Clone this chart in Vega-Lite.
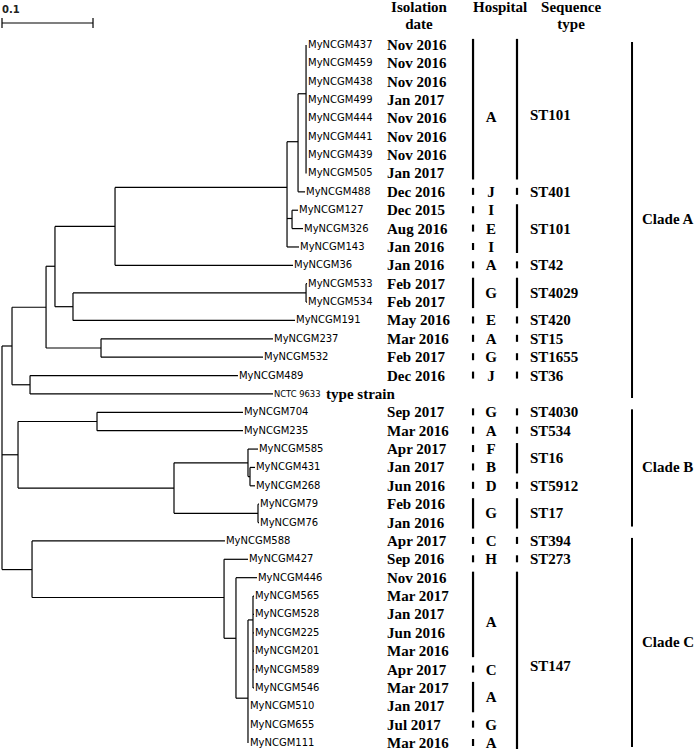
{
  "$schema": "https://vega.github.io/schema/vega-lite/v6.json",
  "width": 696,
  "height": 752,
  "padding": 0,
  "autosize": {"type": "fit", "contains": "padding"},
  "background": "white",
  "config": {"view": {"stroke": null}},
  "datasets": {
    "tree": [
      {"x1":0,"x2":0,"y1":16.39,"y2":28.56},
      {"x1":0,"x2":0.011,"y1":16.39,"y2":16.39},
      {"x1":0,"x2":0.0176,"y1":22.31,"y2":22.31},
      {"x1":0,"x2":0.033,"y1":28.56,"y2":28.56},
      {"x1":0.011,"x2":0.011,"y1":14.28,"y2":18.5},
      {"x1":0.011,"x2":0.0484,"y1":14.28,"y2":14.28},
      {"x1":0.011,"x2":0.0308,"y1":18.5,"y2":18.5},
      {"x1":0.0308,"x2":0.0308,"y1":18,"y2":19},
      {"x1":0.0308,"x2":0.2593,"y1":18,"y2":18},
      {"x1":0.0308,"x2":0.2978,"y1":19,"y2":19},
      {"x1":0.0484,"x2":0.0484,"y1":12.05,"y2":16.5},
      {"x1":0.0484,"x2":0.0582,"y1":12.05,"y2":12.05},
      {"x1":0.0484,"x2":0.1088,"y1":16.5,"y2":16.5},
      {"x1":0.1088,"x2":0.1088,"y1":16,"y2":17},
      {"x1":0.1088,"x2":0.2978,"y1":16,"y2":16},
      {"x1":0.1088,"x2":0.2868,"y1":17,"y2":17},
      {"x1":0.0582,"x2":0.0582,"y1":9.88,"y2":14.25},
      {"x1":0.0582,"x2":0.1242,"y1":9.88,"y2":9.88},
      {"x1":0.0582,"x2":0.078,"y1":14.25,"y2":14.25},
      {"x1":0.078,"x2":0.078,"y1":13.5,"y2":15},
      {"x1":0.078,"x2":0.3341,"y1":13.5,"y2":13.5},
      {"x1":0.078,"x2":0.322,"y1":15,"y2":15},
      {"x1":0.3341,"x2":0.3341,"y1":13,"y2":14},
      {"x1":0.3341,"x2":0.3352,"y1":13,"y2":13},
      {"x1":0.3341,"x2":0.3352,"y1":14,"y2":14},
      {"x1":0.1242,"x2":0.1242,"y1":7.76,"y2":12},
      {"x1":0.1242,"x2":0.3132,"y1":7.76,"y2":7.76},
      {"x1":0.1242,"x2":0.3198,"y1":12,"y2":12},
      {"x1":0.3132,"x2":0.3132,"y1":5.27,"y2":11},
      {"x1":0.3132,"x2":0.3253,"y1":5.27,"y2":5.27},
      {"x1":0.3132,"x2":0.3187,"y1":9.45,"y2":9.45},
      {"x1":0.3132,"x2":0.3264,"y1":11,"y2":11},
      {"x1":0.3187,"x2":0.3187,"y1":9,"y2":10},
      {"x1":0.3187,"x2":0.3253,"y1":9,"y2":9},
      {"x1":0.3187,"x2":0.3308,"y1":10,"y2":10},
      {"x1":0.3253,"x2":0.3253,"y1":2.66,"y2":8},
      {"x1":0.3253,"x2":0.3341,"y1":2.66,"y2":2.66},
      {"x1":0.3253,"x2":0.333,"y1":8,"y2":8},
      {"x1":0.3341,"x2":0.3341,"y1":0,"y2":7},
      {"x1":0.0176,"x2":0.0176,"y1":20.5,"y2":24.125},
      {"x1":0.0176,"x2":0.1044,"y1":20.5,"y2":20.5},
      {"x1":0.0176,"x2":0.189,"y1":24.125,"y2":24.125},
      {"x1":0.1044,"x2":0.1044,"y1":20,"y2":21},
      {"x1":0.1044,"x2":0.2648,"y1":20,"y2":20},
      {"x1":0.1044,"x2":0.2648,"y1":21,"y2":21},
      {"x1":0.189,"x2":0.189,"y1":22.75,"y2":25.5},
      {"x1":0.189,"x2":0.2703,"y1":22.75,"y2":22.75},
      {"x1":0.189,"x2":0.2813,"y1":25.5,"y2":25.5},
      {"x1":0.2703,"x2":0.2703,"y1":22,"y2":23.5},
      {"x1":0.2703,"x2":0.2813,"y1":22,"y2":22},
      {"x1":0.2703,"x2":0.2725,"y1":23.5,"y2":23.5},
      {"x1":0.2725,"x2":0.2725,"y1":23,"y2":24},
      {"x1":0.2725,"x2":0.278,"y1":23,"y2":23},
      {"x1":0.2725,"x2":0.278,"y1":24,"y2":24},
      {"x1":0.2813,"x2":0.2813,"y1":25,"y2":26},
      {"x1":0.2813,"x2":0.2824,"y1":25,"y2":25},
      {"x1":0.2813,"x2":0.2824,"y1":26,"y2":26},
      {"x1":0.033,"x2":0.033,"y1":27,"y2":30.08},
      {"x1":0.033,"x2":0.245,"y1":27,"y2":27},
      {"x1":0.033,"x2":0.244,"y1":30.08,"y2":30.08},
      {"x1":0.244,"x2":0.244,"y1":28,"y2":32.3},
      {"x1":0.244,"x2":0.2703,"y1":28,"y2":28},
      {"x1":0.244,"x2":0.2571,"y1":32.3,"y2":32.3},
      {"x1":0.2571,"x2":0.2571,"y1":29,"y2":35.56},
      {"x1":0.2571,"x2":0.2802,"y1":29,"y2":29},
      {"x1":0.2571,"x2":0.2703,"y1":35.56,"y2":35.56},
      {"x1":0.2703,"x2":0.2703,"y1":31.3,"y2":38},
      {"x1":0.2703,"x2":0.2758,"y1":31.3,"y2":31.3},
      {"x1":0.2758,"x2":0.2758,"y1":30,"y2":35},
      {"x1":0.2758,"x2":0.2769,"y1":30,"y2":30},
      {"x1":0.2758,"x2":0.2769,"y1":31,"y2":31},
      {"x1":0.2758,"x2":0.2769,"y1":32,"y2":32},
      {"x1":0.2758,"x2":0.2769,"y1":33,"y2":33},
      {"x1":0.2758,"x2":0.2769,"y1":34,"y2":34},
      {"x1":0.2758,"x2":0.2769,"y1":35,"y2":35}
    ],
    "scalebar": [
      {"x1":0,"x2":0.1,"y1":-1.19,"y2":-1.19},
      {"x1":0,"x2":0,"y1":-1.47,"y2":-0.92},
      {"x1":0.1,"x2":0.1,"y1":-1.47,"y2":-0.92}
    ],
    "leaves": [
      {"name":"MyNCGM437","row":0,"tip":0.3352,"date":"Nov 2016"},
      {"name":"MyNCGM459","row":1,"tip":0.3352,"date":"Nov 2016"},
      {"name":"MyNCGM438","row":2,"tip":0.3352,"date":"Nov 2016"},
      {"name":"MyNCGM499","row":3,"tip":0.3352,"date":"Jan 2017"},
      {"name":"MyNCGM444","row":4,"tip":0.3352,"date":"Nov 2016"},
      {"name":"MyNCGM441","row":5,"tip":0.3352,"date":"Nov 2016"},
      {"name":"MyNCGM439","row":6,"tip":0.3352,"date":"Nov 2016"},
      {"name":"MyNCGM505","row":7,"tip":0.3352,"date":"Jan 2017"},
      {"name":"MyNCGM488","row":8,"tip":0.333,"date":"Dec 2016"},
      {"name":"MyNCGM127","row":9,"tip":0.3253,"date":"Dec 2015"},
      {"name":"MyNCGM326","row":10,"tip":0.3308,"date":"Aug 2016"},
      {"name":"MyNCGM143","row":11,"tip":0.3264,"date":"Jan 2016"},
      {"name":"MyNCGM36","row":12,"tip":0.3198,"date":"Jan 2016"},
      {"name":"MyNCGM533","row":13,"tip":0.3352,"date":"Feb 2017"},
      {"name":"MyNCGM534","row":14,"tip":0.3352,"date":"Feb 2017"},
      {"name":"MyNCGM191","row":15,"tip":0.322,"date":"May 2016"},
      {"name":"MyNCGM237","row":16,"tip":0.2978,"date":"Mar 2016"},
      {"name":"MyNCGM532","row":17,"tip":0.2868,"date":"Feb 2017"},
      {"name":"MyNCGM489","row":18,"tip":0.2593,"date":"Dec 2016"},
      {"name":"NCTC 9633","row":19,"tip":0.2978,"date":null,"note":"type strain"},
      {"name":"MyNCGM704","row":20,"tip":0.2648,"date":"Sep 2017"},
      {"name":"MyNCGM235","row":21,"tip":0.2648,"date":"Mar 2016"},
      {"name":"MyNCGM585","row":22,"tip":0.2813,"date":"Apr 2017"},
      {"name":"MyNCGM431","row":23,"tip":0.278,"date":"Jan 2017"},
      {"name":"MyNCGM268","row":24,"tip":0.278,"date":"Jun 2016"},
      {"name":"MyNCGM79","row":25,"tip":0.2824,"date":"Feb 2016"},
      {"name":"MyNCGM76","row":26,"tip":0.2824,"date":"Jan 2016"},
      {"name":"MyNCGM588","row":27,"tip":0.245,"date":"Apr 2017"},
      {"name":"MyNCGM427","row":28,"tip":0.2703,"date":"Sep 2016"},
      {"name":"MyNCGM446","row":29,"tip":0.2802,"date":"Nov 2016"},
      {"name":"MyNCGM565","row":30,"tip":0.2769,"date":"Mar 2017"},
      {"name":"MyNCGM528","row":31,"tip":0.2769,"date":"Jan 2017"},
      {"name":"MyNCGM225","row":32,"tip":0.2769,"date":"Jun 2016"},
      {"name":"MyNCGM201","row":33,"tip":0.2769,"date":"Mar 2016"},
      {"name":"MyNCGM589","row":34,"tip":0.2769,"date":"Apr 2017"},
      {"name":"MyNCGM546","row":35,"tip":0.2769,"date":"Mar 2017"},
      {"name":"MyNCGM510","row":36,"tip":0.2714,"date":"Jan 2017"},
      {"name":"MyNCGM655","row":37,"tip":0.2714,"date":"Jul 2017"},
      {"name":"MyNCGM111","row":38,"tip":0.2714,"date":"Mar 2016"}
    ],
    "hospital": [
      {"label":"A","first":0,"last":7},
      {"label":"J","first":8,"last":8},
      {"label":"I","first":9,"last":9},
      {"label":"E","first":10,"last":10},
      {"label":"I","first":11,"last":11},
      {"label":"A","first":12,"last":12},
      {"label":"G","first":13,"last":14},
      {"label":"E","first":15,"last":15},
      {"label":"A","first":16,"last":16},
      {"label":"G","first":17,"last":17},
      {"label":"J","first":18,"last":18},
      {"label":"G","first":20,"last":20},
      {"label":"A","first":21,"last":21},
      {"label":"F","first":22,"last":22},
      {"label":"B","first":23,"last":23},
      {"label":"D","first":24,"last":24},
      {"label":"G","first":25,"last":26},
      {"label":"C","first":27,"last":27},
      {"label":"H","first":28,"last":28},
      {"label":"A","first":29,"last":33},
      {"label":"C","first":34,"last":34},
      {"label":"A","first":35,"last":36},
      {"label":"G","first":37,"last":37},
      {"label":"A","first":38,"last":38}
    ],
    "st": [
      {"label":"ST101","first":0,"last":7},
      {"label":"ST401","first":8,"last":8},
      {"label":"ST101","first":9,"last":11},
      {"label":"ST42","first":12,"last":12},
      {"label":"ST4029","first":13,"last":14},
      {"label":"ST420","first":15,"last":15},
      {"label":"ST15","first":16,"last":16},
      {"label":"ST1655","first":17,"last":17},
      {"label":"ST36","first":18,"last":18},
      {"label":"ST4030","first":20,"last":20},
      {"label":"ST534","first":21,"last":21},
      {"label":"ST16","first":22,"last":23},
      {"label":"ST5912","first":24,"last":24},
      {"label":"ST17","first":25,"last":26},
      {"label":"ST394","first":27,"last":27},
      {"label":"ST273","first":28,"last":28},
      {"label":"ST147","first":29,"last":38}
    ],
    "clades": [
      {"label":"Clade A","first":0,"last":19},
      {"label":"Clade B","first":20,"last":26},
      {"label":"Clade C","first":27,"last":38}
    ]
  },
  "layer": [
    {
      "data": {"name": "tree"},
      "mark": {"type": "rule", "color": "black", "strokeWidth": 1.2},
      "encoding": {
        "x": {"field": "x1", "type": "quantitative", "axis": null, "scale": {"domain": [-0.0022, 0.7626], "nice": false, "zero": false}},
        "x2": {"field": "x2"},
        "y": {"field": "y1", "type": "quantitative", "axis": null, "scale": {"domain": [-2.443, 38.38], "reverse": true, "nice": false, "zero": false}},
        "y2": {"field": "y2"}
      }
    },
    {
      "data": {"name": "scalebar"},
      "mark": {"type": "rule", "color": "black", "strokeWidth": 1.2},
      "encoding": {
        "x": {"field": "x1", "type": "quantitative", "axis": null, "scale": {"domain": [-0.0022, 0.7626], "nice": false, "zero": false}},
        "x2": {"field": "x2"},
        "y": {"field": "y1", "type": "quantitative", "axis": null, "scale": {"domain": [-2.443, 38.38], "reverse": true, "nice": false, "zero": false}},
        "y2": {"field": "y2"}
      }
    },
    {
      "data": {"values": [{"label": "0.1"}]},
      "mark": {"type": "text", "align": "left", "baseline": "alphabetic", "font": "DejaVu Sans", "fontWeight": "bold", "fontSize": 10, "color": "#222"},
      "encoding": {
        "x": {"datum": 0, "type": "quantitative", "axis": null, "scale": {"domain": [-0.0022, 0.7626], "nice": false, "zero": false}},
        "y": {"datum": -1.76, "type": "quantitative", "axis": null, "scale": {"domain": [-2.443, 38.38], "reverse": true, "nice": false, "zero": false}},
        "text": {"field": "label"}
      }
    },
    {
      "data": {"name": "leaves"},
      "transform": [{"filter": "datum.name != 'NCTC 9633'"}],
      "mark": {"type": "text", "align": "left", "baseline": "middle", "dx": 1, "font": "DejaVu Sans", "fontSize": 10, "color": "black"},
      "encoding": {
        "x": {"field": "tip", "type": "quantitative", "axis": null, "scale": {"domain": [-0.0022, 0.7626], "nice": false, "zero": false}},
        "y": {"field": "row", "type": "quantitative", "axis": null, "scale": {"domain": [-2.443, 38.38], "reverse": true, "nice": false, "zero": false}},
        "text": {"field": "name"}
      }
    },
    {
      "data": {"name": "leaves"},
      "transform": [{"filter": "datum.name == 'NCTC 9633'"}],
      "mark": {"type": "text", "align": "left", "baseline": "middle", "dx": 1, "font": "DejaVu Sans Condensed, sans-serif", "fontSize": 9.3, "color": "black"},
      "encoding": {
        "x": {"field": "tip", "type": "quantitative", "axis": null, "scale": {"domain": [-0.0022, 0.7626], "nice": false, "zero": false}},
        "y": {"field": "row", "type": "quantitative", "axis": null, "scale": {"domain": [-2.443, 38.38], "reverse": true, "nice": false, "zero": false}},
        "text": {"field": "name"}
      }
    },
    {
      "data": {"name": "leaves"},
      "transform": [{"filter": "isValid(datum.note)"}],
      "mark": {"type": "text", "align": "left", "baseline": "middle", "font": "Liberation Serif", "fontWeight": "bold", "fontSize": 15, "color": "black"},
      "encoding": {
        "x": {"datum": 0.3561, "type": "quantitative", "axis": null, "scale": {"domain": [-0.0022, 0.7626], "nice": false, "zero": false}},
        "y": {"field": "row", "type": "quantitative", "axis": null, "scale": {"domain": [-2.443, 38.38], "reverse": true, "nice": false, "zero": false}},
        "text": {"field": "note"}
      }
    },
    {
      "data": {"name": "leaves"},
      "transform": [{"filter": "isValid(datum.date)"}],
      "mark": {"type": "text", "align": "left", "baseline": "middle", "font": "Liberation Serif", "fontWeight": "bold", "fontSize": 15, "color": "black"},
      "encoding": {
        "x": {"datum": 0.4231, "type": "quantitative", "axis": null, "scale": {"domain": [-0.0022, 0.7626], "nice": false, "zero": false}},
        "y": {"field": "row", "type": "quantitative", "axis": null, "scale": {"domain": [-2.443, 38.38], "reverse": true, "nice": false, "zero": false}},
        "text": {"field": "date"}
      }
    },
    {
      "data": {"name": "hospital"},
      "transform": [{"filter": "datum.first < datum.last"}],
      "mark": {"type": "rule", "color": "black", "strokeWidth": 2.2, "yOffset": -6, "y2Offset": 6},
      "encoding": {
        "x": {"datum": 0.5176, "type": "quantitative", "axis": null, "scale": {"domain": [-0.0022, 0.7626], "nice": false, "zero": false}},
        "y": {"field": "first", "type": "quantitative", "axis": null, "scale": {"domain": [-2.443, 38.38], "reverse": true, "nice": false, "zero": false}},
        "y2": {"field": "last"}
      }
    },
    {
      "data": {"name": "hospital"},
      "transform": [{"filter": "datum.first == datum.last"}],
      "mark": {"type": "rule", "color": "black", "strokeWidth": 2.2, "yOffset": -4, "y2Offset": 3},
      "encoding": {
        "x": {"datum": 0.5176, "type": "quantitative", "axis": null, "scale": {"domain": [-0.0022, 0.7626], "nice": false, "zero": false}},
        "y": {"field": "first", "type": "quantitative", "axis": null, "scale": {"domain": [-2.443, 38.38], "reverse": true, "nice": false, "zero": false}},
        "y2": {"field": "last"}
      }
    },
    {
      "data": {"name": "hospital"},
      "transform": [{"calculate": "(datum.first + datum.last) / 2 + (datum.last - datum.first >= 4 ? 0.4 : 0)", "as": "mid"}],
      "mark": {"type": "text", "align": "center", "baseline": "middle", "font": "Liberation Serif", "fontWeight": "bold", "fontSize": 15, "color": "black"},
      "encoding": {
        "x": {"datum": 0.5374, "type": "quantitative", "axis": null, "scale": {"domain": [-0.0022, 0.7626], "nice": false, "zero": false}},
        "y": {"field": "mid", "type": "quantitative", "axis": null, "scale": {"domain": [-2.443, 38.38], "reverse": true, "nice": false, "zero": false}},
        "text": {"field": "label"}
      }
    },
    {
      "data": {"name": "st"},
      "transform": [{"filter": "datum.first < datum.last"}],
      "mark": {"type": "rule", "color": "black", "strokeWidth": 2.2, "yOffset": -6, "y2Offset": 6},
      "encoding": {
        "x": {"datum": 0.5659, "type": "quantitative", "axis": null, "scale": {"domain": [-0.0022, 0.7626], "nice": false, "zero": false}},
        "y": {"field": "first", "type": "quantitative", "axis": null, "scale": {"domain": [-2.443, 38.38], "reverse": true, "nice": false, "zero": false}},
        "y2": {"field": "last"}
      }
    },
    {
      "data": {"name": "st"},
      "transform": [{"filter": "datum.first == datum.last"}],
      "mark": {"type": "rule", "color": "black", "strokeWidth": 2.2, "yOffset": -4, "y2Offset": 3},
      "encoding": {
        "x": {"datum": 0.5659, "type": "quantitative", "axis": null, "scale": {"domain": [-0.0022, 0.7626], "nice": false, "zero": false}},
        "y": {"field": "first", "type": "quantitative", "axis": null, "scale": {"domain": [-2.443, 38.38], "reverse": true, "nice": false, "zero": false}},
        "y2": {"field": "last"}
      }
    },
    {
      "data": {"name": "st"},
      "transform": [{"calculate": "(datum.first + datum.last) / 2 + (datum.last - datum.first >= 4 ? 0.3 : 0)", "as": "mid"}],
      "mark": {"type": "text", "align": "left", "baseline": "middle", "font": "Liberation Serif", "fontWeight": "bold", "fontSize": 15, "color": "black"},
      "encoding": {
        "x": {"datum": 0.5802, "type": "quantitative", "axis": null, "scale": {"domain": [-0.0022, 0.7626], "nice": false, "zero": false}},
        "y": {"field": "mid", "type": "quantitative", "axis": null, "scale": {"domain": [-2.443, 38.38], "reverse": true, "nice": false, "zero": false}},
        "text": {"field": "label"}
      }
    },
    {
      "data": {"name": "clades"},
      "mark": {"type": "rule", "color": "black", "strokeWidth": 2, "yOffset": -3, "y2Offset": 4},
      "encoding": {
        "x": {"datum": 0.6923, "type": "quantitative", "axis": null, "scale": {"domain": [-0.0022, 0.7626], "nice": false, "zero": false}},
        "y": {"field": "first", "type": "quantitative", "axis": null, "scale": {"domain": [-2.443, 38.38], "reverse": true, "nice": false, "zero": false}},
        "y2": {"field": "last"}
      }
    },
    {
      "data": {"name": "clades"},
      "transform": [{"calculate": "(datum.first + datum.last) / 2", "as": "mid"}],
      "mark": {"type": "text", "align": "left", "baseline": "middle", "font": "Liberation Serif", "fontWeight": "bold", "fontSize": 15, "color": "black"},
      "encoding": {
        "x": {"datum": 0.7033, "type": "quantitative", "axis": null, "scale": {"domain": [-0.0022, 0.7626], "nice": false, "zero": false}},
        "y": {"field": "mid", "type": "quantitative", "axis": null, "scale": {"domain": [-2.443, 38.38], "reverse": true, "nice": false, "zero": false}},
        "text": {"field": "label"}
      }
    },
    {
      "data": {"values": [
        {"l1": "Isolation", "l2": "date", "cx": 0.4582},
        {"l1": "Hospital", "l2": "", "cx": 0.5473},
        {"l1": "Sequence", "l2": "type", "cx": 0.6253}
      ]},
      "mark": {"type": "text", "align": "center", "baseline": "alphabetic", "font": "Liberation Serif", "fontWeight": "bold", "fontSize": 15, "color": "black"},
      "encoding": {
        "x": {"field": "cx", "type": "quantitative", "axis": null, "scale": {"domain": [-0.0022, 0.7626], "nice": false, "zero": false}},
        "y": {"datum": -1.79, "type": "quantitative", "axis": null, "scale": {"domain": [-2.443, 38.38], "reverse": true, "nice": false, "zero": false}},
        "text": {"field": "l1"}
      }
    },
    {
      "data": {"values": [
        {"l1": "Isolation", "l2": "date", "cx": 0.4582},
        {"l1": "Hospital", "l2": "", "cx": 0.5473},
        {"l1": "Sequence", "l2": "type", "cx": 0.6253}
      ]},
      "mark": {"type": "text", "align": "center", "baseline": "alphabetic", "font": "Liberation Serif", "fontWeight": "bold", "fontSize": 15, "color": "black"},
      "encoding": {
        "x": {"field": "cx", "type": "quantitative", "axis": null, "scale": {"domain": [-0.0022, 0.7626], "nice": false, "zero": false}},
        "y": {"datum": -0.87, "type": "quantitative", "axis": null, "scale": {"domain": [-2.443, 38.38], "reverse": true, "nice": false, "zero": false}},
        "text": {"field": "l2"}
      }
    }
  ]
}
